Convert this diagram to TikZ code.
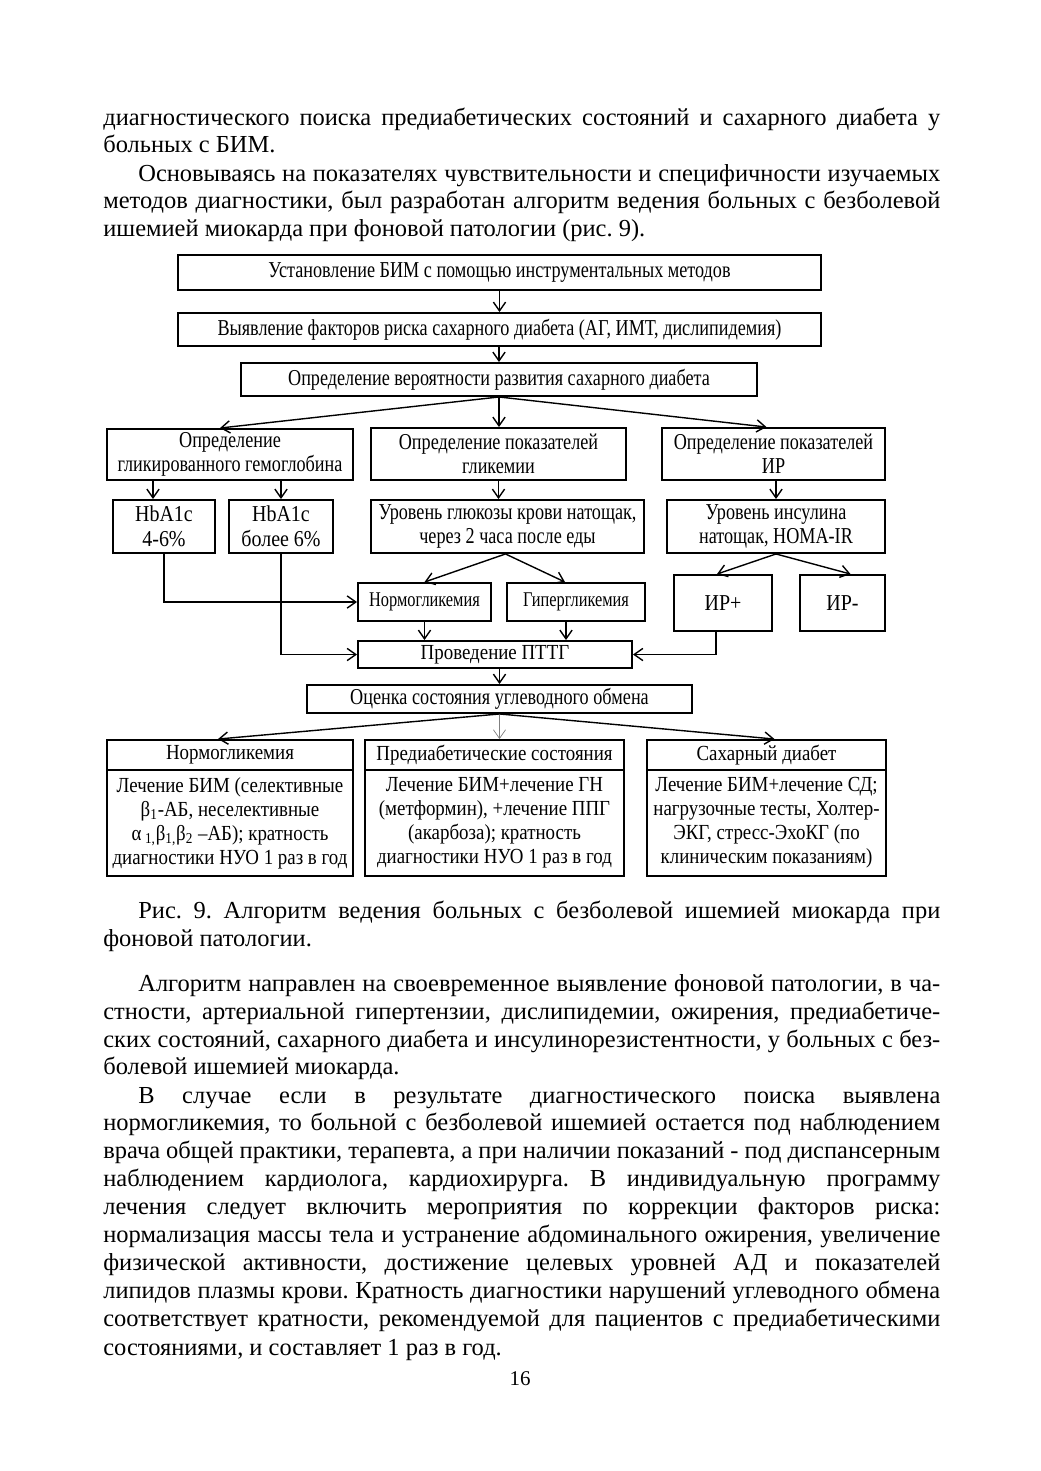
\documentclass[tikz,border=0pt]{standalone}
\usepackage{fontspec}
\setmainfont{Liberation Serif}
\newfontfamily\dfont[FakeStretch=0.8]{Liberation Serif}
\newfontfamily\dfontw[FakeStretch=0.88]{Liberation Serif}
\newfontfamily\dfontn[FakeStretch=0.78]{Liberation Serif}
\newfontfamily\dfontb[FakeStretch=0.88]{Liberation Serif}
\usepackage{tikz}
\usetikzlibrary{calc,arrows.meta,positioning}
\frenchspacing
\newcommand{\pxu}{0.5724pt}
% justified line / last line of a paragraph
\newcommand{\jline}[4]{\node[bodytxt] (#1) at (#2,#3) {\makebox[\dimexpr(940pt-#2pt)*5724/10000\relax][s]{#4}};}
\newcommand{\lline}[4]{\node[bodytxt] (#1) at (#2,#3) {#4};}
\tikzset{
  bodytxt/.style={anchor=base west, inner sep=0pt, font=\fontsize{14}{16}\selectfont},
  blk/.style={draw, line width=1.1pt, align=center, inner sep=1pt, font=\dfont\fontsize{13}{13.7}\selectfont},
  wide/.style={font=\dfontw\fontsize{13}{14.5}\selectfont},
  narrow/.style={font=\dfontn\fontsize{12}{13.7}\selectfont},
  botm/.style={font=\dfontb\fontsize{12.3}{13.7}\selectfont},
  sz/.style 2 args={minimum width=#1*\pxu, minimum height=#2*\pxu},
  arr/.style={line width=0.8pt, -{Straight Barb[length=5pt,width=7pt]}},
}

\begin{document}
\begin{tikzpicture}[x=\pxu, y=-\pxu]
  \useasboundingbox[fill=white] (0,0) rectangle (1040,1471);

  % text above the figure
  \jline{t1}{103}{125}{диагностического поиска предиабетических состояний и сахарного диабета у}
  \lline{t2}{103}{152}{больных с БИМ.}
  \jline{t3}{138}{181}{Основываясь на показателях чувствительности и специфичности изучаемых}
  \jline{t4}{103}{208}{методов диагностики, был разработан алгоритм ведения больных с безболевой}
  \lline{t5}{103}{236}{ишемией миокарда при фоновой патологии (рис. 9).}

  % algorithm
  \node[blk, sz={643}{35}] (b1) at (499.5,272.5) {Установление БИМ с помощью инструментальных методов};
  \node[blk, sz={643}{33}] (b2) at (499.5,329.5) {Выявление факторов риска сахарного диабета (АГ, ИМТ, дислипидемия)};
  \node[blk, sz={516}{33}] (b3) at (499,379.5) {Определение вероятности развития сахарного диабета};

  \node[blk, sz={246}{51}] (c1) at (230,454.5) {Определение\\гликированного гемоглобина};
  \node[blk, sz={255}{52}] (c2) at (498.5,454) {Определение показателей\\гликемии};
  \node[blk, sz={223}{52}] (c3) at (773.5,454) {Определение показателей\\ИР};

  \node[blk, wide, sz={102}{53}] (hb1) at (164,526.5) {HbA1c\\4-6\%};
  \node[blk, wide, sz={104}{53}] (hb2) at (281,526.5) {HbA1c\\более 6\%};
  \node[blk, sz={273}{53}] (gl) at (507.5,526.5) {Уровень глюкозы крови натощак,\\через 2 часа после еды};
  \node[blk, sz={218}{53}] (ins) at (776,526.5) {Уровень инсулина\\натощак, HOMA-IR};

  \node[blk, narrow, sz={133}{38}] (ng) at (424.5,602) {Нормогликемия};
  \node[blk, narrow, sz={138}{38}] (hg) at (576,602) {Гипергликемия};
  \node[blk, wide, sz={98}{56}] (irp) at (723,603) {ИР+};
  \node[blk, wide, sz={85}{56}] (irm) at (842.5,603) {ИР-};

  \node[blk, botm, sz={274}{27}] (pt) at (495,654.5) {Проведение ПТТГ};
  \node[blk, sz={385}{28}] (oc) at (499.5,699) {Оценка состояния углеводного обмена};

  \node[blk, botm, sz={246}{30}] (h1) at (230,755) {Нормогликемия};
  \node[blk, botm, sz={246}{106}] (d1) at (230,823) {Лечение БИМ (селективные\\β\textsubscript{1}-АБ, неселективные\\α\,\textsubscript{1,}β\textsubscript{1,}β\textsubscript{2} –АБ); кратность\\диагностики НУО 1 раз в год};
  \node[blk, botm, sz={259}{30}] (h2) at (494.5,755) {Предиабетические состояния};
  \node[blk, botm, sz={259}{106}] (d2) at (494.5,823) {Лечение БИМ+лечение ГН\\(метформин), +лечение ППГ\\(акарбоза); кратность\\диагностики НУО 1 раз в год};
  \node[blk, botm, sz={239}{30}] (h3) at (766.5,755) {Сахарный диабет};
  \node[blk, botm, sz={239}{106}] (d3) at (766.5,823) {Лечение БИМ+лечение СД;\\нагрузочные тесты, Холтер-\\ЭКГ, стресс-ЭхоКГ (по\\клиническим показаниям)};

  \coordinate (a1) at ($(c1.north)+(-10,0)$);
  \coordinate (a2) at ($(c3.north)+(-7,0)$);
  \coordinate (a3) at ($(hb1.north)+(-11,0)$);
  \coordinate (a4) at ($(hg.north)+(-11,0)$);
  \coordinate (a5) at ($(irp.north)+(-6,0)$);
  \coordinate (a6) at ($(irm.north)+(8,0)$);
  \coordinate (a7) at ($(hg.south)+(-10,0)$);
  \coordinate (a8) at ($(irp.south)+(-7,0)$);
  \coordinate (a9) at ($(h1.north)+(-12,0)$);
  \coordinate (a10) at ($(h3.north)+(8,0)$);

  \draw[arr] (b1) -- (b2);
  \draw[arr] (b2.south -| b3.north) -- (b3.north);
  \draw[arr] (b3.south) -- (a1);
  \draw[arr] (b3.south) -- (b3.south |- c2.north);
  \draw[arr] (b3.south) -- (a2);
  \draw[arr] (c1.south -| a3) -- (a3);
  \draw[arr] (c1.south -| hb2.north) -- (hb2.north);
  \draw[arr] (c2.south) -- (c2.south |- gl.north);
  \draw[arr] (c3.south -| ins.north) -- (ins.north);
  \draw[arr] ($(gl.south)+(-2,0)$) -- (ng.north);
  \draw[arr] ($(gl.south)+(-2,0)$) -- (a4);
  \draw[arr] (ins.south) -- (a5);
  \draw[arr] (ins.south) -- (a6);
  \draw[arr] (hb1.south) |- (ng.west);
  \draw[arr] (hb2.south) |- (pt.west);
  \draw[arr] (ng.south) -- (ng.south |- pt.north);
  \draw[arr] (a7) -- (a7 |- pt.north);
  \draw[arr] (a8) |- (pt.east);
  \draw[arr] (oc.north |- pt.south) -- (oc.north);
  \draw[arr] (oc.south) -- (a9);
  \draw[arr, gray, line width=0.4pt] (oc.south) -- (oc.south |- h2.north);
  \draw[arr] (oc.south) -- (a10);

  % caption and text below
  \jline{t6}{138}{918}{Рис. 9. Алгоритм ведения больных с безболевой ишемией миокарда при}
  \lline{t7}{103}{946}{фоновой патологии.}
  \jline{t8}{138}{991}{Алгоритм направлен на своевременное выявление фоновой патологии, в ча-}
  \jline{t9}{103}{1019}{стности, артериальной гипертензии, дислипидемии, ожирения, предиабетиче-}
  \jline{t10}{103}{1047}{ских состояний, сахарного диабета и инсулинорезистентности, у больных с без-}
  \lline{t11}{103}{1074}{болевой ишемией миокарда.}
  \jline{t12}{138}{1103}{В случае если в результате диагностического поиска выявлена}
  \jline{t13}{103}{1130}{нормогликемия, то больной с безболевой ишемией остается под наблюдением}
  \jline{t14}{103}{1158}{врача общей практики, терапевта, а при наличии показаний - под диспансерным}
  \jline{t15}{103}{1186}{наблюдением кардиолога, кардиохирурга. В индивидуальную программу}
  \jline{t16}{103}{1214}{лечения следует включить мероприятия по коррекции факторов риска:}
  \jline{t17}{103}{1242}{нормализация массы тела и устранение абдоминального ожирения, увеличение}
  \jline{t18}{103}{1270}{физической активности, достижение целевых уровней АД и показателей}
  \jline{t19}{103}{1298}{липидов плазмы крови. Кратность диагностики нарушений углеводного обмена}
  \jline{t20}{103}{1326}{соответствует кратности, рекомендуемой для пациентов с предиабетическими}
  \lline{t21}{103}{1355}{состояниями, и составляет 1 раз в год.}
  \node[inner sep=0pt, anchor=base, font=\fontsize{12}{14}\selectfont] (pg) at (520,1385) {16};
\end{tikzpicture}
\end{document}
